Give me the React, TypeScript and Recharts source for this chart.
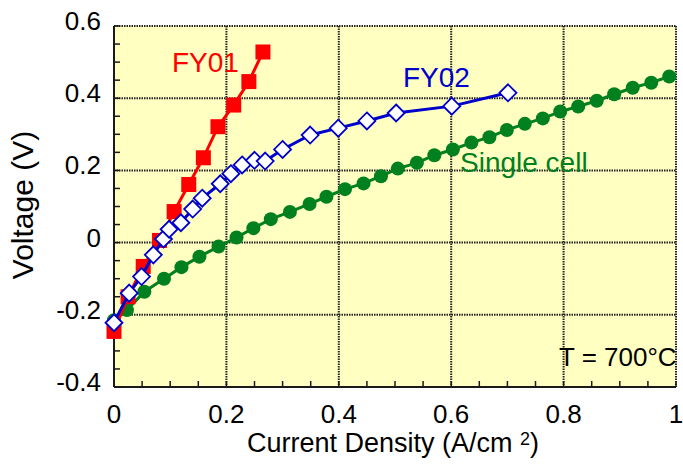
import { ScatterChart, Scatter, XAxis, YAxis, CartesianGrid } from "recharts";

// FY01 stack (red squares)
const fy01Current = [0, 0.025, 0.052, 0.081, 0.107, 0.133, 0.159, 0.185, 0.213, 0.24, 0.265];
const fy01Voltage = [-0.246, -0.15, -0.066, 0.006, 0.086, 0.161, 0.235, 0.321, 0.381, 0.446, 0.528];

// FY02 stack (open diamonds)
const fy02Current = [
  0, 0.027, 0.049, 0.07, 0.088, 0.098, 0.119, 0.14, 0.157, 0.189, 0.208,
  0.228, 0.25, 0.269, 0.3, 0.349, 0.399, 0.45, 0.502, 0.601, 0.701,
];
const fy02Voltage = [
  -0.222, -0.14, -0.094, -0.034, 0.01, 0.037, 0.055, 0.093, 0.123, 0.163, 0.191,
  0.215, 0.228, 0.226, 0.258, 0.298, 0.317, 0.337, 0.359, 0.378, 0.415,
];

// single cell (green dots)
const cellCurrent = [
  0, 0.023, 0.054, 0.089, 0.12, 0.152, 0.186, 0.218, 0.248, 0.279, 0.313,
  0.348, 0.378, 0.411, 0.444, 0.475, 0.505, 0.539, 0.57, 0.603, 0.636,
  0.668, 0.699, 0.731, 0.763, 0.794, 0.826, 0.859, 0.89, 0.923, 0.956, 0.988,
];
const cellVoltage = [
  -0.215, -0.187, -0.136, -0.1, -0.068, -0.039, -0.011, 0.014, 0.04, 0.065, 0.085,
  0.107, 0.127, 0.148, 0.164, 0.184, 0.205, 0.221, 0.242, 0.258, 0.277,
  0.292, 0.312, 0.329, 0.344, 0.363, 0.377, 0.393, 0.411, 0.429, 0.443, 0.46,
];

// axis ticks
const xMajor = [0, 0.2, 0.4, 0.6, 0.8, 1];
const yMajor = [-0.4, -0.2, 0, 0.2, 0.4, 0.6];
const xMinor = [
  0, 0.05, 0.1, 0.15, 0.2, 0.25, 0.3, 0.35, 0.4, 0.45, 0.5,
  0.55, 0.6, 0.65, 0.7, 0.75, 0.8, 0.85, 0.9, 0.95, 1,
];
const yMinor = [
  -0.4, -0.35, -0.3, -0.25, -0.2, -0.15, -0.1, -0.05, 0, 0.05, 0.1,
  0.15, 0.2, 0.25, 0.3, 0.35, 0.4, 0.45, 0.5, 0.55, 0.6,
];

const FONT = "'Liberation Sans', Arial, sans-serif";
const RED = "#FF0000";
const BLUE = "#0000CC";
const GREEN = "#00801E";
const AXIS = "#1a1a1a";

const toPoints = (xs: number[], ys: number[]) => xs.map((x, i) => ({ x, y: ys[i] }));

const fy01 = toPoints(fy01Current, fy01Voltage);
const fy02 = toPoints(fy02Current, fy02Voltage);
const cell = toPoints(cellCurrent, cellVoltage);

const isMajor = (v: number) => Math.abs(v * 5 - Math.round(v * 5)) < 1e-6;
const fmt = (v: number) => {
  const r = Math.round(v * 10) / 10;
  return r === 0 ? "0" : String(r);
};

function XTick(props: any) {
  const { x, y, payload } = props;
  if (!isMajor(payload.value)) return null;
  return (
    <text x={x} y={y + 36} textAnchor="middle" fontSize={26} fontFamily={FONT} fill="#000">
      {fmt(payload.value)}
    </text>
  );
}

function YTick(props: any) {
  const { x, y, payload } = props;
  if (!isMajor(payload.value)) return null;
  return (
    <text x={x - 13} y={y + 4} textAnchor="end" fontSize={26} fontFamily={FONT} fill="#000">
      {fmt(payload.value)}
    </text>
  );
}

const square = (p: any) => <rect x={p.cx - 7.5} y={p.cy - 7.5} width={15} height={15} fill={RED} />;
const diamond = (p: any) => (
  <polygon
    points={`${p.cx},${p.cy - 8.5} ${p.cx + 8.5},${p.cy} ${p.cx},${p.cy + 8.5} ${p.cx - 8.5},${p.cy}`}
    fill="#FFFFFF"
    stroke={BLUE}
    strokeWidth={1.8}
  />
);
const dot = (p: any) => <circle cx={p.cx} cy={p.cy} r={7} fill={GREEN} />;

export default function App() {
  return (
    <div style={{ position: "absolute", left: 0, top: 0, width: 683, height: 468, background: "#fff" }}>
      <ScatterChart width={683} height={468} margin={{ top: 26, right: 7, left: 0, bottom: 0 }}>
        <CartesianGrid
          fill="#FFFFC2"
          fillOpacity={1}
          stroke="#222"
          strokeWidth={2}
          strokeDasharray="1.5 1"
          verticalValues={xMajor}
          horizontalValues={yMajor}
        />
        <XAxis
          type="number"
          dataKey="x"
          domain={[0, 1]}
          ticks={xMinor}
          interval={0}
          height={81}
          tickSize={-6}
          tickMargin={6}
          tick={<XTick />}
          axisLine={{ stroke: AXIS, strokeWidth: 2 }}
          tickLine={{ stroke: AXIS, strokeWidth: 1.5 }}
        />
        <XAxis
          xAxisId="top"
          orientation="top"
          type="number"
          domain={[0, 1]}
          ticks={xMinor}
          interval={0}
          height={0}
          tickSize={-6}
          tick={false}
          axisLine={{ stroke: AXIS, strokeWidth: 2 }}
          tickLine={{ stroke: AXIS, strokeWidth: 1.5 }}
        />
        <YAxis
          type="number"
          dataKey="y"
          domain={[-0.4, 0.6]}
          ticks={yMinor}
          interval={0}
          width={114}
          tickSize={-6}
          tickMargin={6}
          tick={<YTick />}
          axisLine={{ stroke: AXIS, strokeWidth: 2 }}
          tickLine={{ stroke: AXIS, strokeWidth: 1.5 }}
        />
        <YAxis
          yAxisId="right"
          orientation="right"
          type="number"
          domain={[-0.4, 0.6]}
          ticks={yMinor}
          interval={0}
          width={0}
          tickSize={-6}
          tick={false}
          axisLine={{ stroke: AXIS, strokeWidth: 2 }}
          tickLine={{ stroke: AXIS, strokeWidth: 1.5 }}
        />
        <Scatter
          data={cell}
          line={{ stroke: GREEN, strokeWidth: 3 }}
          lineType="joint"
          shape={dot}
          isAnimationActive={false}
        />
        <Scatter
          data={fy01}
          line={{ stroke: RED, strokeWidth: 3 }}
          lineType="joint"
          shape={square}
          isAnimationActive={false}
        />
        <Scatter
          data={fy02}
          line={{ stroke: BLUE, strokeWidth: 3 }}
          lineType="joint"
          shape={diamond}
          isAnimationActive={false}
        />
      </ScatterChart>
      <svg
        width={683}
        height={468}
        style={{ position: "absolute", left: 0, top: 0, pointerEvents: "none" }}
        fontFamily={FONT}
      >
        <text x={172} y={72} fontSize={28} fill={RED}>FY01</text>
        <text x={403} y={87} fontSize={28} fill={BLUE}>FY02</text>
        <text x={460} y={172} fontSize={28} fill={GREEN}>Single cell</text>
        <text x={559} y={366} fontSize={26} fill="#000">T = 700°C</text>
        <text x={393} y={452} fontSize={27} textAnchor="middle" fill="#000">
          Current Density (A/cm <tspan dy={-7} fontSize={18}>2</tspan>
          <tspan dy={7}>)</tspan>
        </text>
        <text transform="translate(33,205) rotate(-90)" fontSize={30} textAnchor="middle" fill="#000">
          Voltage (V)
        </text>
      </svg>
    </div>
  );
}
